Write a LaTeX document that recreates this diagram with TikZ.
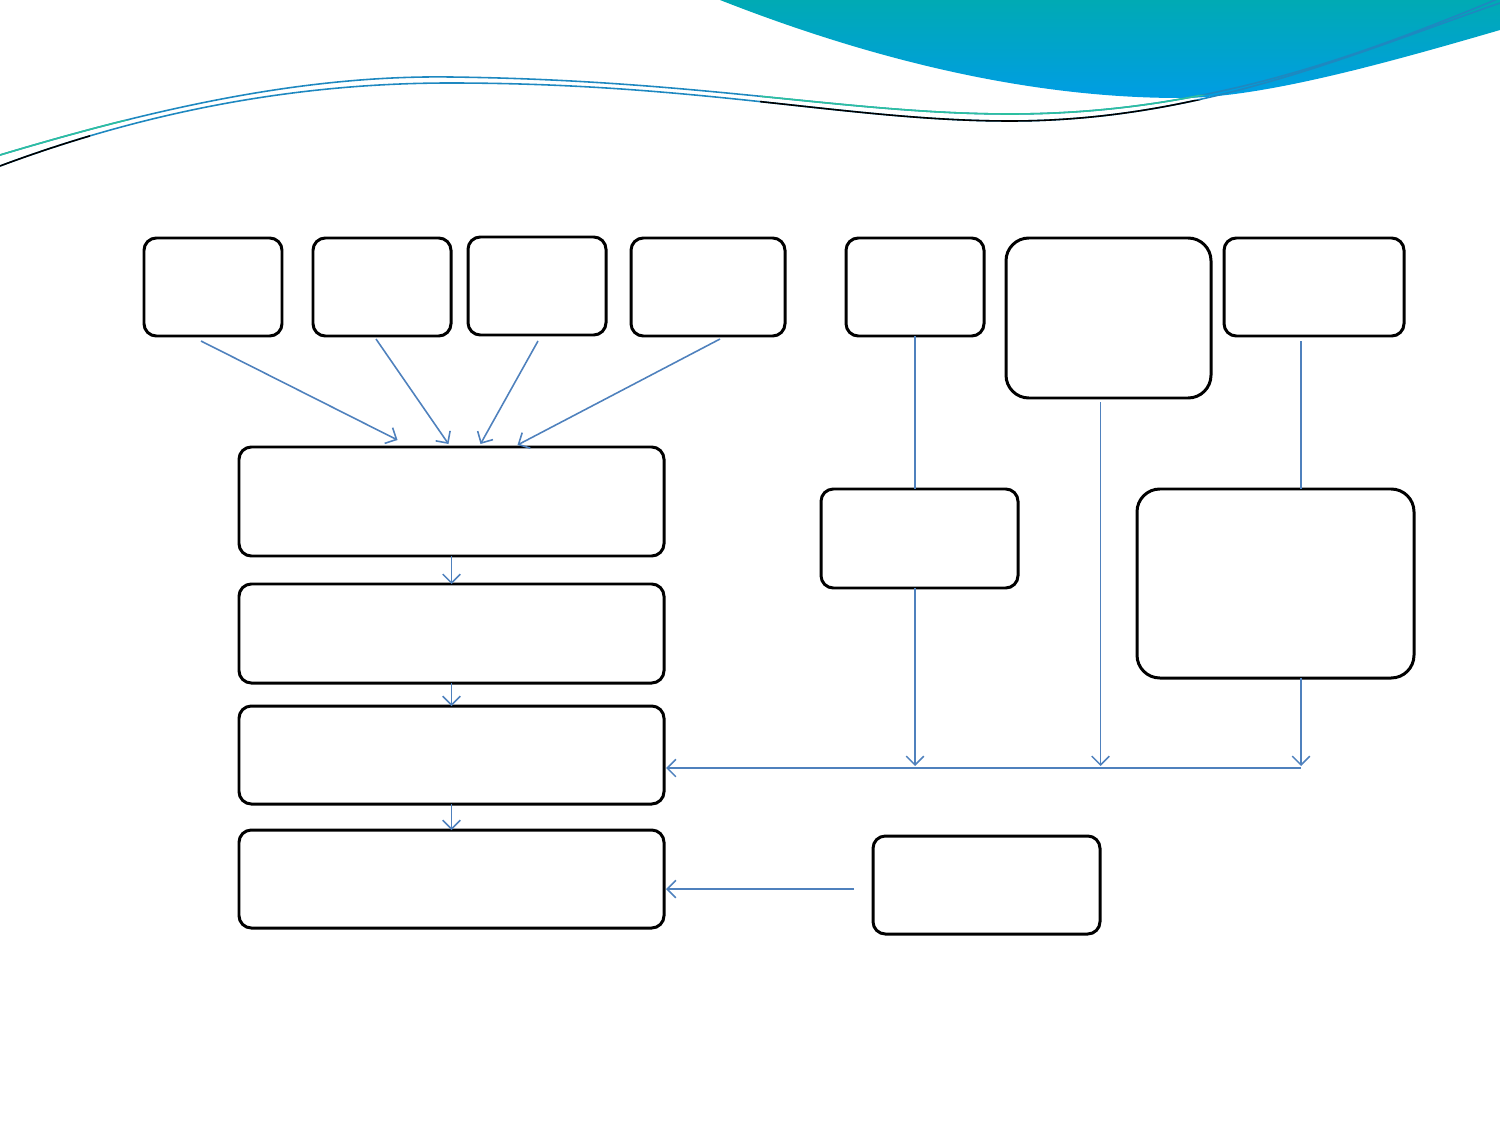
\documentclass[tikz,border=0pt]{standalone}
\usetikzlibrary{arrows.meta,calc,fit}
\definecolor{conn}{HTML}{4F81BD}
\definecolor{tealA}{HTML}{00AAB4}
\definecolor{blueA}{HTML}{009DE4}
\definecolor{lineG}{HTML}{2CC0A0}
\definecolor{lineB}{HTML}{1E88C0}
\definecolor{lineD}{HTML}{2A6FB5}
\tikzset{
  box/.style={draw=black, line width=1.7pt, rounded corners=7pt, inner sep=0pt, outer sep=0pt},
  bigbox/.style={box, rounded corners=13pt},
  conline/.style={draw=conn, line width=0.9pt},
  conarrow/.style={conline, -{Straight Barb[length=5pt,width=10pt]}},
}
\begin{document}
\begin{tikzpicture}[x=0.02cm,y=-0.02cm]
\useasboundingbox (0,0) rectangle (1500,1125);
% top wave fill
\shade[top color=tealA, bottom color=blueA]
  (720,0) -- (1500,0) -- (1500,30)
  .. controls (1380,65) and (1260,98) .. (1180,98)
  .. controls (1020,98) and (860,55) .. (720,0) -- cycle;
% thin curves
\begin{scope}
\draw[line width=0.9pt, lineB] (0,166) .. controls (150,110) and (300,83) .. (450,83)
  .. controls (700,83) and (850,121) .. (1010,121)
  .. controls (1200,121) and (1350,55) .. (1500,3);
\begin{scope}
\clip (0,120) rectangle (90,180) (760,100) rectangle (1210,140);
\draw[line width=0.9pt, black] (0,166) .. controls (150,110) and (300,83) .. (450,83)
  .. controls (700,83) and (850,121) .. (1010,121)
  .. controls (1200,121) and (1350,55) .. (1500,3);
\end{scope}
\draw[line width=0.9pt, lineB] (0,155) .. controls (150,110) and (300,75) .. (450,77)
  .. controls (700,80) and (850,114) .. (1010,114)
  .. controls (1200,114) and (1350,60) .. (1500,-2);
\begin{scope}
\clip (0,120) rectangle (230,180) (760,95) rectangle (1350,140);
\draw[line width=0.9pt, lineG] (0,155) .. controls (150,110) and (300,75) .. (450,77)
  .. controls (700,80) and (850,114) .. (1010,114)
  .. controls (1200,114) and (1350,60) .. (1500,-2);
\end{scope}
\end{scope}
% boxes
\node[box, fit={(144,238) (282,336)}] (A1) {};
\node[box, fit={(313,238) (451,336)}] (A2) {};
\node[box, fit={(468,237) (606,335)}] (A3) {};
\node[box, fit={(631,238) (785,336)}] (A4) {};
\node[box, fit={(846,238) (984,336)}] (B1) {};
\node[bigbox, fit={(1006,238) (1211,398)}] (B2) {};
\node[box, fit={(1224,238) (1404,336)}] (B3) {};
\node[box, fit={(239,447) (664,556)}] (L1) {};
\node[box, fit={(239,584) (664,683)}] (L2) {};
\node[box, fit={(239,706) (664,804)}] (L3) {};
\node[box, fit={(239,830) (664,928)}] (L4) {};
\node[box, fit={(821,489) (1018,588)}] (M1) {};
\node[bigbox, fit={(1137,489) (1414,678)}] (R1) {};
\node[box, fit={(873,836) (1100,934)}] (N1) {};
\coordinate (J) at (1301,768);
% connectors
\draw[conarrow] ($(A1.south)+(-12,5)$) -- ($(L1.north)+(-54,-7)$);
\draw[conarrow] ($(A2.south)+(-6,3)$) -- ($(L1.north)+(-3,-3)$);
\draw[conarrow] ($(A3.south)+(1,6)$) -- ($(L1.north)+(29,-3)$);
\draw[conarrow] ($(A4.south)+(12,3)$) -- ($(L1.north)+(66,-2)$);
\draw[conarrow] (L1.south) -- (L2.north);
\draw[conarrow] (L2.south) -- (L3.north);
\draw[conarrow] (L3.south) -- (L4.north);
\draw[conline] (B1.south) -- (B1.south |- M1.north);
\draw[conarrow] (B1.south |- M1.south) -- ($(B1.south |- J)+(0,-2)$);
\draw[conarrow] ($(B2.south)+(-8,4)$) -- ($(B2.south |- J)+(-8,-2)$);
\draw[conline] ($(J |- B3.south)+(0,5)$) -- (J |- R1.north);
\draw[conarrow] (J |- R1.south) -- ($(J)+(0,-2)$);
\draw[conarrow] (J) -- ($(L3.east |- J)+(2,0)$);
\draw[conarrow] ($(N1.west)+(-19,4)$) -- ($(L4.east |- N1.west)+(2,4)$);
\end{tikzpicture}
\end{document}
